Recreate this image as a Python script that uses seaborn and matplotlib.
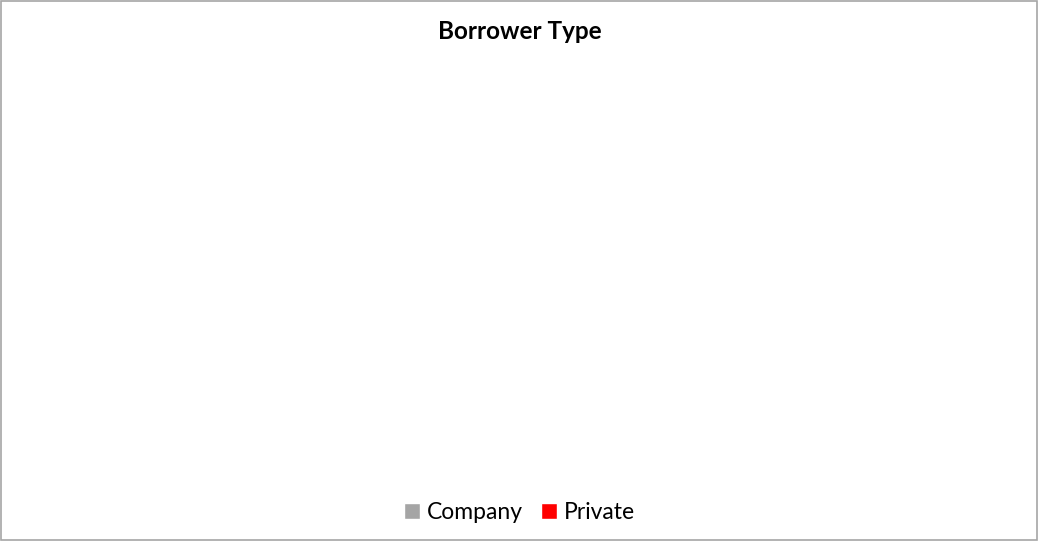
import matplotlib
matplotlib.use("Agg")
import matplotlib.pyplot as plt
import seaborn as sns
import pandas as pd
from matplotlib.patches import Rectangle

categories = ["Company", "Private"]
values = [0, 0]
colors = ["#a5a5a5", "#ff0000"]
title = "Borrower Type"

sns.set_theme(style="white")
plt.rcParams['font.family'] = ['Lato', 'DejaVu Sans']

df = pd.DataFrame({"Type": categories, "Value": values})

fig = plt.figure(figsize=(10.39, 5.41), dpi=100)
ax = fig.add_axes([0.05, 0.12, 0.9, 0.75])
sns.barplot(data=df, x="Type", y="Value", hue="Type", palette=colors,
            saturation=1, ax=ax, legend=True)
ax.set_ylim(0, 1)
ax.axis("off")

handles, labels = ax.get_legend_handles_labels()
if ax.get_legend() is not None:
    ax.get_legend().remove()
leg = fig.legend(handles, labels, loc="center", bbox_to_anchor=(0.5, 0.053),
                 ncol=2, frameon=False, fontsize=16.5, handlelength=0.68,
                 handleheight=0.68, handletextpad=0.3, columnspacing=0.8)
for t in leg.get_texts():
    t.set_color("black")

fig.text(0.5, 0.942, title, ha="center", va="center", fontsize=17.5,
         fontweight="bold", color="#000000")

fig.add_artist(Rectangle((0.0005, 0.002), 0.9975, 0.996,
                         transform=fig.transFigure, fill=False,
                         edgecolor="#a6a6a6", linewidth=1.2))

fig.savefig("out.png", dpi=100, facecolor="white")
